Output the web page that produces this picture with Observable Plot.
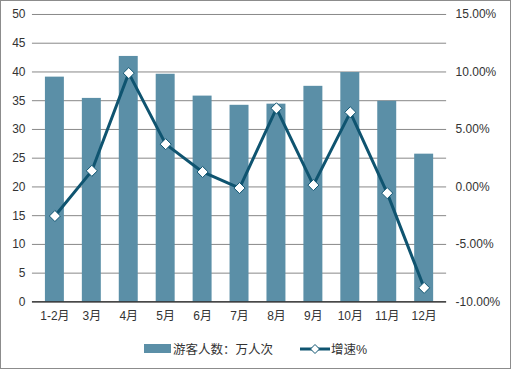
<!DOCTYPE html>
<html><head><meta charset="utf-8">
<script src="https://cdn.jsdelivr.net/npm/d3@7"></script>
<script src="https://cdn.jsdelivr.net/npm/@observablehq/plot@0.6"></script>
<style>
html,body{margin:0;padding:0;background:#fff;}
#wrap{position:relative;width:509px;height:367px;border:1px solid #8c8c8c;font-family:"Liberation Sans",Arial,"Noto Sans CJK SC",sans-serif;overflow:hidden;}
#chart{position:absolute;left:-1px;top:-1px;}
#legend{position:absolute;left:0;top:338px;width:509px;display:flex;justify-content:center;align-items:center;font-size:12.5px;color:#333;font-family:"Liberation Sans",Arial,"Noto Sans CJK SC",sans-serif;}
.sw{display:inline-block;width:27px;height:9px;background:#5b8fa7;margin-right:2px;}
.item{display:flex;align-items:center;margin-right:26px;}
</style></head>
<body><div id="wrap"><div id="chart"></div><div id="legend"></div></div>
<script>
const months = ["1-2月","3月","4月","5月","6月","7月","8月","9月","10月","11月","12月"];
const visitors = [39.1, 35.4, 42.7, 39.6, 35.8, 34.2, 34.4, 37.5, 39.9, 34.9, 25.7];
const growth = [-2.53, 1.4, 9.9, 3.72, 1.3, -0.1, 6.84, 0.16, 6.49, -0.54, -8.78];
const leftTicks = [0,5,10,15,20,25,30,35,40,45,50];
const rightTicks = [-10,-5,0,5,10,15];
const barName = "游客人数：万人次";
const lineName = "增速%";

const barColor = "#5b8fa7";
const lineColor = "#0f5470";
// map growth % onto left scale: -10% -> 0, 15% -> 50
const toLeft = p => (p + 10) * 2;

const barData = months.map((m,i)=>({m, v: visitors[i]}));
const lineData = months.map((m,i)=>({m, v: toLeft(growth[i])}));

const plot = Plot.plot({
  width: 511, height: 330,
  marginLeft: 32, marginRight: 64, marginTop: 14, marginBottom: 28,
  style: {fontFamily: '"Liberation Sans",Arial,"Noto Sans CJK SC",sans-serif', fontSize: "12px", color: "#333", background: "transparent"},
  x: {type: "band", domain: months, paddingInner: 0.5, paddingOuter: 0.25, label: null},
  y: {domain: [0, 50], label: null},
  marks: [
    Plot.gridY(leftTicks, {stroke: "#888", strokeOpacity: 1, strokeWidth: 1}),
    Plot.barY(barData, {x: "m", y: "v", fill: barColor}),
    Plot.ruleY([0], {stroke: "#000", strokeWidth: 1}),
    Plot.axisY({ticks: leftTicks, tickSize: 0, tickPadding: 7, label: null, fill: "#333", fontSize: 12}),
    Plot.axisY({anchor: "right", ticks: rightTicks.map(toLeft), tickFormat: d => (d/2 - 10).toFixed(2) + "%", tickSize: 0, tickPadding: 9, label: null, fill: "#333", fontSize: 12}),
    Plot.axisX({tickSize: 0, tickPadding: 10, label: null, fill: "#333", fontSize: 12}),
    Plot.line(lineData, {x: "m", y: "v", stroke: lineColor, strokeWidth: 3, curve: "linear"}),
    Plot.dot(lineData, {x: "m", y: "v", symbol: "diamond2", r: 5, fill: "#fff", stroke: lineColor, strokeWidth: 1})
  ]
});
document.getElementById("chart").appendChild(plot);

const legend = document.getElementById("legend");
legend.innerHTML = `<span class="item"><span class="sw"></span>${barName}</span>` +
  `<span class="item" style="margin-right:0"><svg width="32" height="12"><line x1="1" y1="6" x2="31" y2="6" stroke="${lineColor}" stroke-width="3"/><path d="M16,1.5 L20.5,6 L16,10.5 L11.5,6 Z" fill="#fff" stroke="${lineColor}" stroke-width="1"/></svg>${lineName}</span>`;
</script>
</body></html>
